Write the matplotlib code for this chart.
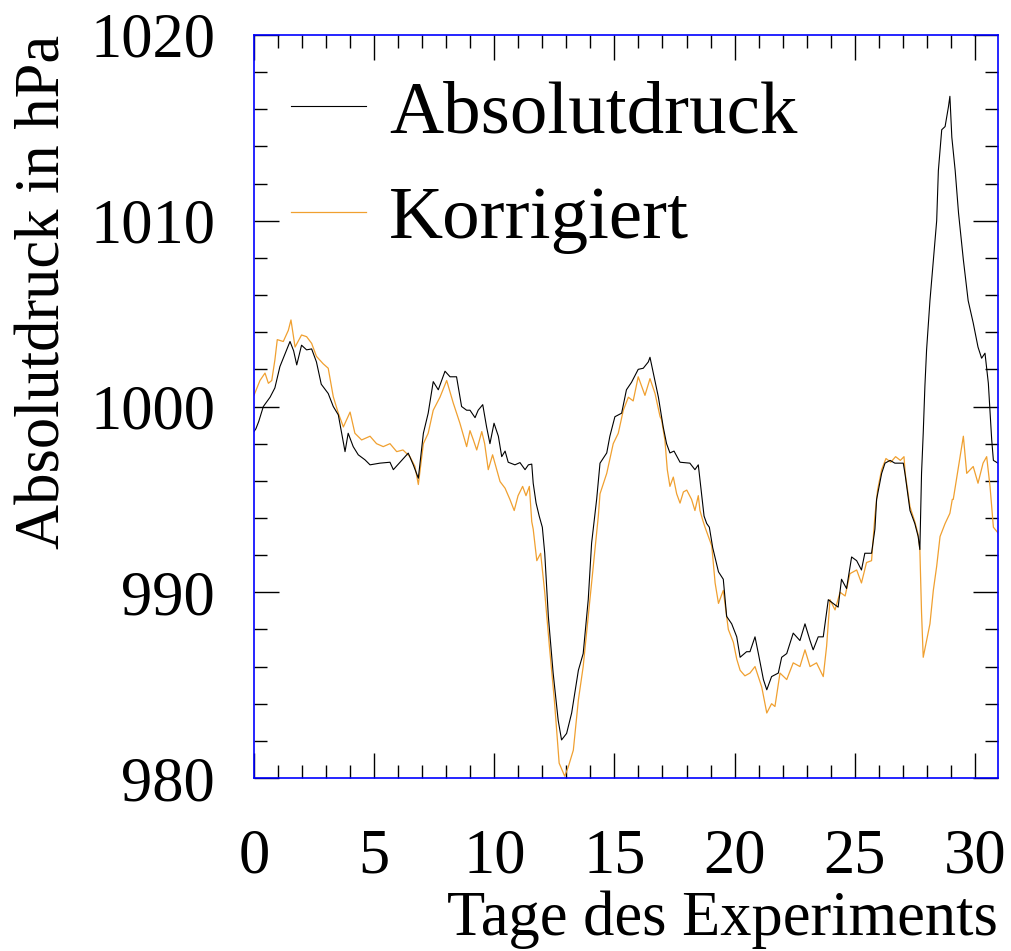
import numpy as np
import matplotlib
matplotlib.use('Agg')
import matplotlib.pyplot as plt
from matplotlib.ticker import MultipleLocator

# ============== Data ==============
# Absolutdruck (black), day of experiment vs. pressure in hPa
tageAbs = [0.0, 0.08, 0.2, 0.39, 0.67, 0.87, 1.08, 1.36, 1.5, 1.65, 1.78, 1.98, 2.19, 2.4, 2.6,
           2.8, 3.09, 3.3, 3.51, 3.65, 3.79, 3.92, 4.13, 4.34, 4.62, 4.83, 5.24, 5.66, 5.8, 6.08,
           6.42, 6.63, 6.84, 7.05, 7.25, 7.46, 7.67, 7.95, 8.16, 8.43, 8.64, 8.85, 8.99, 9.2, 9.33,
           9.52, 9.68, 9.82, 9.99, 10.17, 10.31, 10.45, 10.58, 10.86, 11.07, 11.28, 11.42, 11.56,
           11.62, 11.74, 11.87, 12.0, 12.1, 12.25, 12.45, 12.66, 12.8, 13.01, 13.22, 13.5, 13.7,
           13.91, 14.05, 14.26, 14.4, 14.68, 14.81, 15.02, 15.3, 15.5, 15.71, 15.99, 16.2, 16.41,
           16.48, 16.62, 16.83, 17.03, 17.17, 17.31, 17.48, 17.73, 18.14, 18.35, 18.49, 18.56,
           18.63, 18.73, 18.84, 18.95, 19.09, 19.33, 19.53, 19.67, 19.88, 20.09, 20.23, 20.5,
           20.64, 20.85, 20.99, 21.2, 21.34, 21.54, 21.82, 21.96, 22.17, 22.44, 22.72, 22.93,
           23.14, 23.27, 23.48, 23.69, 23.9, 24.1, 24.31, 24.45, 24.66, 24.87, 25.08, 25.28,
           25.42, 25.7, 25.84, 25.91, 26.12, 26.26, 26.47, 26.67, 27.02, 27.09, 27.3, 27.5,
           27.64, 27.71, 27.78, 27.85, 27.92, 27.99, 28.13, 28.41, 28.48, 28.62, 28.76, 28.9,
           28.96, 29.04, 29.18, 29.32, 29.52, 29.72, 29.93, 30.13, 30.28, 30.42, 30.56, 30.7,
           30.77, 30.96]
druckAbs = [998.65, 998.8, 999.2, 1000.0, 1000.5, 1001.0, 1002.15, 1003.05, 1003.5, 1003.0,
            1002.24, 1003.3, 1003.05, 1003.1, 1002.4, 1001.2, 1000.7, 1000.0, 999.55, 998.56,
            997.57, 998.56, 997.84, 997.4, 997.13, 996.86, 996.95, 997.0, 996.6, 997.0, 997.49,
            996.86, 996.14, 998.56, 999.64, 1001.34, 1000.9, 1001.9, 1001.6, 1001.6, 1000.0,
            999.8, 999.8, 999.4, 999.8, 1000.1, 998.9, 998.0, 999.1, 998.4, 997.3, 997.6, 997.0,
            996.86, 996.98, 996.6, 996.86, 996.9, 995.87, 994.8, 994.1, 993.5, 992.1, 988.7,
            985.65, 983.1, 982.05, 982.4, 983.5, 985.8, 986.7, 989.6, 992.64, 995.0, 996.95,
            997.5, 998.4, 999.45, 999.64, 1000.9, 1001.3, 1002.0, 1002.06, 1002.4, 1002.65,
            1001.8, 1000.5, 998.9, 998.0, 997.5, 997.6, 997.0, 996.95, 996.6, 996.86, 996.05,
            995.2, 994.1, 993.7, 993.5, 992.4, 991.1, 990.7, 988.7, 988.3, 987.6, 986.5, 986.8,
            986.8, 987.6, 986.7, 985.3, 984.75, 985.46, 985.65, 986.5, 986.7, 987.8, 987.4,
            988.3, 987.4, 986.9, 987.6, 987.6, 989.6, 989.4, 989.2, 990.7, 990.2, 991.9, 991.7,
            991.2, 992.1, 992.1, 993.4, 995.0, 996.4, 996.95, 997.1, 996.95, 996.95, 996.4,
            994.4, 993.7, 993.0, 992.3, 996.4, 998.56, 1001.1, 1003.05, 1005.7, 1010.0, 1012.7,
            1014.9, 1015.07, 1016.14, 1016.7, 1014.5, 1012.7, 1010.4, 1007.9, 1005.7, 1004.5,
            1003.2, 1002.6, 1002.87, 1001.25, 998.2, 997.1, 996.95]

# Korrigiert (orange)
tageKorr = [0.0, 0.25, 0.46, 0.6, 0.74, 0.87, 0.97, 1.22, 1.43, 1.54, 1.71, 1.98, 2.19, 2.4,
            2.6, 2.88, 3.09, 3.3, 3.51, 3.72, 4.0, 4.2, 4.48, 4.83, 5.1, 5.38, 5.66, 5.94, 6.2,
            6.49, 6.7, 6.84, 7.05, 7.25, 7.46, 7.74, 8.02, 8.29, 8.57, 8.85, 8.99, 9.13, 9.27,
            9.48, 9.6, 9.75, 9.93, 10.1, 10.24, 10.45, 10.65, 10.83, 10.99, 11.18, 11.32, 11.46,
            11.56, 11.62, 11.77, 11.93, 12.1, 12.3, 12.5, 12.7, 12.93, 13.08, 13.29, 13.5, 13.7,
            13.91, 14.12, 14.33, 14.4, 14.68, 14.95, 15.16, 15.37, 15.58, 15.78, 15.99, 16.27,
            16.48, 16.69, 16.9, 16.96, 17.1, 17.2, 17.31, 17.45, 17.59, 17.73, 17.87, 18.01,
            18.21, 18.35, 18.49, 18.56, 18.67, 18.77, 18.91, 19.05, 19.19, 19.33, 19.53, 19.74,
            19.95, 20.09, 20.23, 20.43, 20.64, 20.85, 21.13, 21.34, 21.54, 21.68, 21.89, 22.17,
            22.44, 22.72, 22.93, 23.14, 23.41, 23.69, 23.83, 23.97, 24.18, 24.39, 24.6, 24.8,
            25.08, 25.28, 25.49, 25.7, 25.84, 25.95, 26.12, 26.3, 26.5, 26.7, 26.9, 27.05, 27.1,
            27.3, 27.5, 27.64, 27.71, 27.78, 27.85, 27.99, 28.13, 28.27, 28.41, 28.55, 28.76,
            28.96, 29.06, 29.1, 29.32, 29.52, 29.66, 29.93, 30.13, 30.34, 30.49, 30.63, 30.77,
            30.96]
druckKorr = [1000.6, 1001.4, 1001.8, 1001.25, 1001.4, 1002.5, 1003.6, 1003.5, 1004.1, 1004.66,
             1003.2, 1003.85, 1003.76, 1003.4, 1002.7, 1002.3, 1002.06, 1000.53, 999.64, 998.9,
             999.7, 998.56, 998.2, 998.4, 998.0, 997.84, 998.0, 997.57, 997.66, 997.3, 996.77,
             995.8, 998.0, 998.56, 999.8, 1000.5, 1001.4, 1000.2, 999.1, 997.84, 998.7, 998.2,
             997.66, 998.65, 998.0, 996.6, 997.4, 996.6, 995.96, 995.6, 995.0, 994.4, 995.2,
             995.7, 995.2, 995.7, 993.8, 993.4, 991.7, 992.1, 990.0, 987.0, 984.2, 980.8, 980.1,
             980.6, 981.5, 984.2, 986.0, 988.7, 991.4, 994.1, 995.3, 996.4, 998.0, 998.56, 999.8,
             1000.5, 1000.3, 1001.6, 1000.6, 1001.5, 1000.7, 999.45, 999.3, 998.2, 996.6, 995.7,
             996.2, 995.3, 994.8, 995.4, 995.5, 995.0, 994.4, 995.2, 994.4, 993.9, 993.5, 993.0,
             992.5, 990.5, 989.4, 990.1, 988.0, 987.3, 986.4, 985.8, 985.5, 985.65, 986.0, 984.9,
             983.5, 984.0, 983.85, 985.65, 985.3, 986.2, 986.0, 986.9, 986.0, 986.2, 985.46,
             987.1, 989.6, 989.05, 990.0, 989.8, 991.0, 991.2, 990.5, 991.6, 991.7, 994.1, 995.5,
             996.6, 997.2, 997.0, 997.3, 997.1, 997.3, 996.4, 994.6, 993.8, 993.1, 992.3, 988.9,
             986.5, 987.4, 988.3, 990.1, 991.4, 993.0, 993.7, 994.25, 995.0, 995.0, 996.77,
             998.4, 996.4, 996.77, 995.87, 996.95, 997.3, 995.7, 993.5, 993.2]

xTicks = [0, 5, 10, 15, 20, 25, 30]
yTicks = [980, 990, 1000, 1010, 1020]
# ======================================================

plt.rcParams['font.family'] = ['Liberation Serif', 'DejaVu Serif']

fig = plt.figure(figsize=(10.11, 9.51), dpi=100)
ax = fig.add_axes([0.2512, 0.1819, 0.9871 - 0.2512, 0.9632 - 0.1819])

lineKorr, = ax.plot(tageKorr, druckKorr, color='#f0a030', lw=0.9, label='Korrigiert')
lineAbs, = ax.plot(tageAbs, druckAbs, color='black', lw=0.8, label='Absolutdruck')

ax.set_xlim(0, 30.96)
ax.set_ylim(980, 1020)
ax.set_xticks(xTicks)
ax.set_yticks(yTicks)
ax.xaxis.set_minor_locator(MultipleLocator(1))
ax.yaxis.set_minor_locator(MultipleLocator(2))
ax.tick_params(which='both', direction='in', top=True, right=True, width=1, color='black')
ax.tick_params(which='major', length=18)
ax.tick_params(which='minor', length=9.5)
ax.tick_params(axis='x', which='major', labelsize=45, pad=36)
ax.tick_params(axis='y', which='major', labelsize=45, pad=28)

for spine in ax.spines.values():
    spine.set_color('#0000ff')
    spine.set_linewidth(1.2)

ax.set_xlabel('Tage des Experiments', fontsize=45, loc='right', labelpad=3)
ax.set_ylabel('Absolutdruck in hPa', fontsize=45, loc='top', labelpad=12)

ax.legend(handles=[lineAbs, lineKorr], loc='upper left', bbox_to_anchor=(0.03, 0.96),
          frameon=False, fontsize=54, handlelength=1.0, handletextpad=0.3,
          labelspacing=0.5, borderpad=0.2, borderaxespad=0)

fig.savefig('out.png', dpi=100)
